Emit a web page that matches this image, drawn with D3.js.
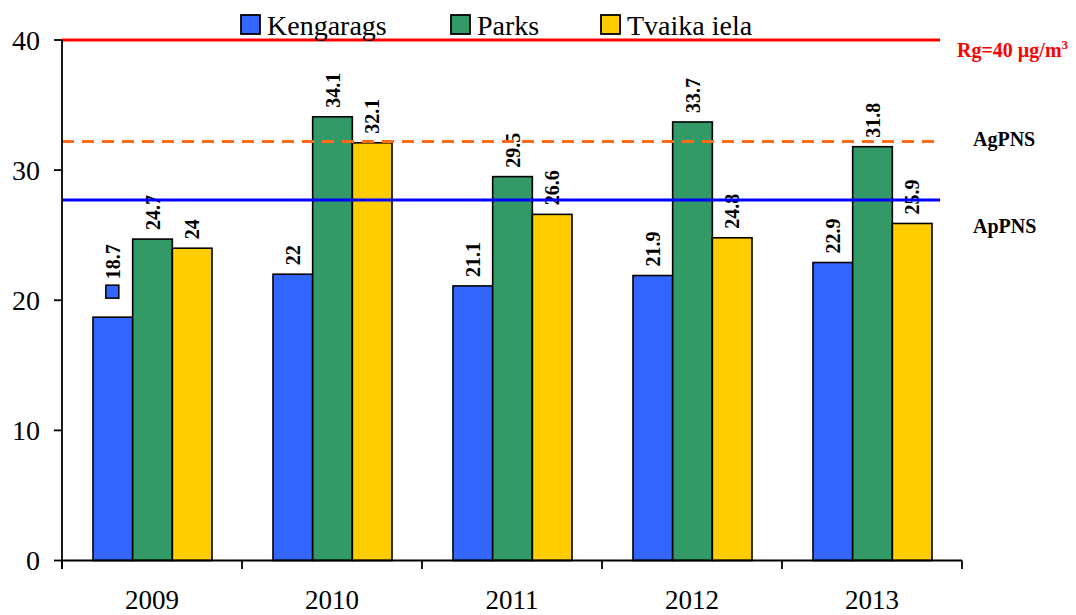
<!DOCTYPE html>
<html>
<head>
<meta charset="utf-8">
<script src="https://cdn.jsdelivr.net/npm/d3@7"></script>
<style>
  body { margin: 0; background: #fff; }
  svg { display: block; font-family: "Liberation Serif", "Times New Roman", serif; }
</style>
</head>
<body>
<script>
// chart data
var years = ["2009", "2010", "2011", "2012", "2013"];
var seriesNames = ["Kengarags", "Parks", "Tvaika iela"];
var kengarags = [18.7, 22, 21.1, 21.9, 22.9];
var parks = [24.7, 34.1, 29.5, 33.7, 31.8];
var tvaika = [24, 32.1, 26.6, 24.8, 25.9];
var seriesColors = ["#3366FF", "#339966", "#FFCC00"];
var yTicks = [0, 10, 20, 30, 40];
// limit lines
var limitNames = ["Rg=40 µg/m", "AgPNS", "ApPNS"];
var limitValues = [40, 32.2, 27.7];

var W = 1076, H = 615;
var plotLeft = 62, plotRight = 962, plotTop = 40, plotBottom = 560.5;

var svg = d3.select("body").append("svg")
    .attr("width", W)
    .attr("height", H);

var x0 = d3.scaleBand().domain(years).range([plotLeft, plotRight]);
var x1 = d3.scaleBand().domain(seriesNames).range([31, 150]);
var y = d3.scaleLinear().domain([0, 40]).range([plotBottom, plotTop]);

var rows = years.map(function(yr, i) {
    return { year: yr, vals: [kengarags[i], parks[i], tvaika[i]] };
});

// bars
var group = svg.selectAll("g.year")
    .data(rows)
    .enter()
    .append("g")
    .attr("class", "year")
    .attr("transform", function(d) { return "translate(" + x0(d.year) + ",0)"; });

group.selectAll("rect")
    .data(function(d) { return d.vals.map(function(v, j) { return { name: seriesNames[j], v: v, j: j }; }); })
    .enter()
    .append("rect")
    .attr("x", function(d) { return x1(d.name); })
    .attr("y", function(d) { return y(d.v); })
    .attr("width", x1.bandwidth())
    .attr("height", function(d) { return plotBottom - y(d.v); })
    .attr("fill", function(d) { return seriesColors[d.j]; })
    .attr("stroke", "#000")
    .attr("stroke-width", 1.6);

// limit lines
var lineStyles = [
    { color: "#FF0000", dash: null },
    { color: "#FF6A16", dash: "12,8" },
    { color: "#0000FF", dash: null }
];
limitValues.forEach(function(v, i) {
    svg.append("line")
        .attr("x1", plotLeft)
        .attr("x2", 940)
        .attr("y1", y(v))
        .attr("y2", y(v))
        .attr("stroke", lineStyles[i].color)
        .attr("stroke-width", 3)
        .attr("stroke-dasharray", lineStyles[i].dash);
});

// data labels
group.selectAll("text.lbl")
    .data(function(d) { return d.vals.map(function(v, j) { return { name: seriesNames[j], v: v, j: j, first: d.year === "2009" && j === 0 }; }); })
    .enter()
    .append("text")
    .attr("class", "lbl")
    .attr("transform", function(d) {
        var cx = x1(d.name) + x1.bandwidth() / 2 + 7;
        var off = d.first ? 38 : 9;
        return "translate(" + cx + "," + (y(d.v) - off) + ") rotate(-90)";
    })
    .attr("font-size", "20px")
    .attr("font-weight", "bold")
    .text(function(d) { return d.v; });

// stray legend key next to first label
svg.append("rect")
    .attr("x", x0("2009") + x1("Kengarags") + x1.bandwidth() / 2 - 7)
    .attr("y", y(kengarags[0]) - 32)
    .attr("width", 13)
    .attr("height", 13)
    .attr("fill", seriesColors[0])
    .attr("stroke", "#000")
    .attr("stroke-width", 1.5);

// y axis
var yAxis = svg.append("g");
yAxis.append("line")
    .attr("x1", plotLeft).attr("x2", plotLeft)
    .attr("y1", y(40)).attr("y2", plotBottom + 8.5)
    .attr("stroke", "#000").attr("stroke-width", 1.8);
yAxis.selectAll("line.tick")
    .data(yTicks)
    .enter()
    .append("line")
    .attr("class", "tick")
    .attr("x1", plotLeft - 8).attr("x2", plotLeft)
    .attr("y1", function(d) { return y(d); })
    .attr("y2", function(d) { return y(d); })
    .attr("stroke", "#000").attr("stroke-width", 1.8);
yAxis.selectAll("text")
    .data(yTicks)
    .enter()
    .append("text")
    .attr("x", 40)
    .attr("y", function(d) { return y(d); })
    .attr("dy", "0.34em")
    .attr("text-anchor", "end")
    .attr("font-size", "28px")
    .text(function(d) { return d; });

// x axis
var xAxis = svg.append("g");
xAxis.append("line")
    .attr("x1", plotLeft).attr("x2", plotRight)
    .attr("y1", plotBottom).attr("y2", plotBottom)
    .attr("stroke", "#000").attr("stroke-width", 1.8);
var bounds = years.map(function(yr) { return x0(yr); }).concat([plotRight]);
xAxis.selectAll("line.tick")
    .data(bounds)
    .enter()
    .append("line")
    .attr("class", "tick")
    .attr("x1", function(d) { return d; }).attr("x2", function(d) { return d; })
    .attr("y1", plotBottom).attr("y2", plotBottom + 8.5)
    .attr("stroke", "#000").attr("stroke-width", 1.8);
xAxis.selectAll("text")
    .data(years)
    .enter()
    .append("text")
    .attr("x", function(d) { return x0(d) + x0.bandwidth() / 2; })
    .attr("y", 609)
    .attr("text-anchor", "middle")
    .attr("font-size", "27px")
    .text(function(d) { return d; });

// limit labels
var limitPos = [[957, 57], [973, 146], [973, 233]];
limitNames.forEach(function(name, i) {
    var t = svg.append("text")
        .attr("x", limitPos[i][0])
        .attr("y", limitPos[i][1])
        .attr("font-size", "20px")
        .attr("font-weight", "bold")
        .attr("fill", i === 0 ? "#FF0000" : "#000")
        .text(name);
    if (i === 0) {
        t.append("tspan").attr("dy", -8).attr("font-size", "13px").text("3");
    }
});

// legend
var legendX = [241, 451, 601];
var legend = svg.selectAll("g.legend")
    .data(seriesNames)
    .enter()
    .append("g")
    .attr("class", "legend")
    .attr("transform", function(d, i) { return "translate(" + legendX[i] + ",15)"; });
legend.append("rect")
    .attr("width", 19)
    .attr("height", 19)
    .attr("fill", function(d, i) { return seriesColors[i]; })
    .attr("stroke", "#000")
    .attr("stroke-width", 1.8);
legend.append("text")
    .attr("x", 26)
    .attr("y", 20)
    .attr("font-size", "28px")
    .text(function(d) { return d; });
</script>
</body>
</html>
